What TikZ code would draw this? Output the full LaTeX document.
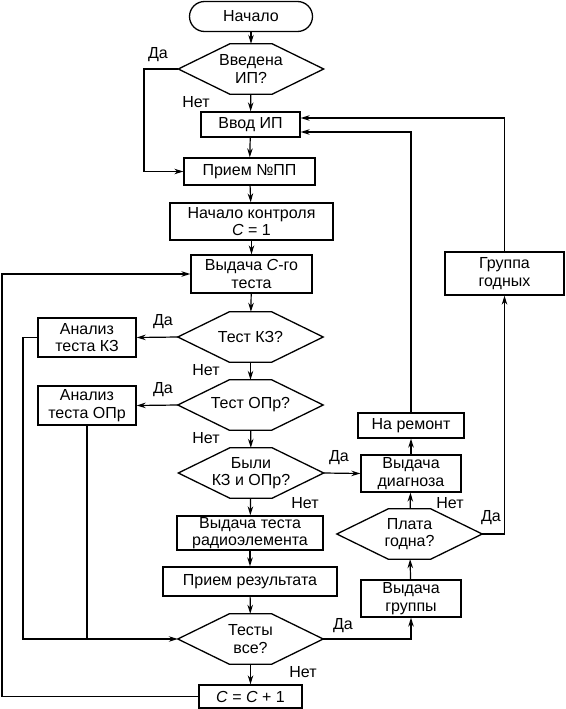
\documentclass[tikz,border=0pt]{standalone}
\usepackage{fontspec}
\setmainfont{Liberation Sans}
\usetikzlibrary{arrows.meta}

\begin{document}
\begin{tikzpicture}[x=1pt, y=-1pt,
    every node/.style={font=\fontsize{16}{17.5}\selectfont},
    box/.style={draw, line width=1.3pt, rectangle, inner sep=0pt, align=center},
    decision/.style={inner sep=0pt, minimum width=145pt, minimum height=50pt, align=center},
    flow/.style={line width=1.2pt, -{Stealth[length=9pt,width=5.5pt]}},
    wire/.style={line width=1.3pt, line join=miter}]
    \useasboundingbox (0,0) rectangle (565,709);

    % main column
    \node[box, rounded corners=15pt, minimum width=123pt, minimum height=30pt] (start) at (251,16.5) {Начало};
    \node[decision] (q1) at (251,69) {Введена\\ИП?};
    \node[box, minimum width=99pt, minimum height=25pt] (b1) at (250.5,124.5) {Ввод ИП};
    \node[box, minimum width=131pt, minimum height=27pt] (b2) at (249.5,171.5) {Прием №ПП};
    \node[box, minimum width=163pt, minimum height=37pt] (b3) at (251.5,221.5) {Начало контроля\\\textit{C} = 1};
    \node[box, minimum width=121pt, minimum height=38pt] (b4) at (251.5,274) {Выдача \textit{C}-го\\теста};
    \node[decision] (q2) at (250.5,337) {Тест КЗ?};
    \node[decision] (q3) at (250.5,405) {Тест ОПр?};
    \node[decision] (q4) at (251,473) {Были\\КЗ и ОПр?};
    \node[box, minimum width=146pt, minimum height=34pt] (b5) at (250,533) {Выдача теста\\радиоэлемента};
    \node[box, minimum width=174pt, minimum height=29pt] (b6) at (250,581.5) {Прием результата};
    \node[decision] (q5) at (250.5,639) {Тесты\\все?};
    \node[box, minimum width=103pt, minimum height=23pt] (b7) at (250.5,696.5) {\textit{C} = \textit{C} + 1};

    % analysis boxes
    \node[box, minimum width=98pt, minimum height=39pt] (a1) at (87,337.5) {Анализ\\теста КЗ};
    \node[box, minimum width=98pt, minimum height=39pt] (a2) at (87,405.5) {Анализ\\теста ОПр};

    % right column
    \node[box, minimum width=119pt, minimum height=43pt] (g) at (504.5,273.5) {Группа\\годных};
    \node[box, minimum width=106pt, minimum height=25pt] (r) at (411,425.5) {На ремонт};
    \node[box, minimum width=100pt, minimum height=37pt] (d) at (411,473.5) {Выдача\\диагноза};
    \node[decision] (q6) at (409.5,534) {Плата\\годна?};
    \node[box, minimum width=100pt, minimum height=37pt] (v) at (411,598.5) {Выдача\\группы};

    % hexagons
    \foreach \q in {q1,q2,q3,q4,q5,q6}
      \draw[wire] (\q.west) -- ([xshift=51.5pt]\q.north west) -- ([xshift=-51.5pt]\q.north east)
        -- (\q.east) -- ([xshift=-51.5pt]\q.south east) -- ([xshift=51.5pt]\q.south west) -- cycle;

    \coordinate (skip) at (144,0);
    \coordinate (bus) at (23,0);
    \coordinate (back) at (2,0);
    \coordinate (in1) at ([yshift=6.5pt]b1.east);
    \coordinate (in2) at ([yshift=-7.5pt]b1.east);

    \draw[flow] (start) -- (q1);
    \draw[flow] (q1) -- (b1);
    \draw[flow] (b1) -- (b2);
    \draw[flow] (b2) -- (b3);
    \draw[flow] (b3) -- (b4);
    \draw[flow] (b4) -- (q2);
    \draw[flow] (q2) -- (q3);
    \draw[flow] (q3) -- (q4);
    \draw[flow] (q4) -- (b5);
    \draw[flow] (b5) -- (b6);
    \draw[flow] (b6) -- (q5);
    \draw[flow] (q5) -- (b7);
    \draw[flow] (q1.west) -- (q1.west -| skip) |- (b2.west);
    \draw[flow] (q2.west) -- (a1.east);
    \draw[flow] (q3.west) -- (a2.east);
    \draw[flow] (a1.west) -- (a1.west -| bus) |- (q5.west);
    \draw[wire] (a2.south) -- (a2.south |- q5.west);
    \draw[flow] (b7.west) -- (b7.west -| back) |- (b4.west);
    \draw[flow] (q4.east) -- (d.west);
    \draw[flow] (q5.east) -| (v.south);
    \draw[flow] (v) -- (q6);
    \draw[flow] (q6) -- (d);
    \draw[flow] (d) -- (r);
    \draw[flow] (q6.east) -| (g.south);
    \draw[flow] (r.north) |- (in2);
    \draw[flow] (g.north) |- (in1);

    % labels
    \node (da1) at (158,55) {Да};
    \node (net1) at (196,102) {Нет};
    \node (da2) at (163,322) {Да};
    \node (net2) at (206,370) {Нет};
    \node (da3) at (163,390) {Да};
    \node (net3) at (206,438) {Нет};
    \node (da4) at (339,458) {Да};
    \node (net4) at (305,503) {Нет};
    \node (da5) at (343,626) {Да};
    \node (net5) at (303,672) {Нет};
    \node (net6) at (450,503) {Нет};
    \node (da6) at (491,518) {Да};
  \end{tikzpicture}
\end{document}
